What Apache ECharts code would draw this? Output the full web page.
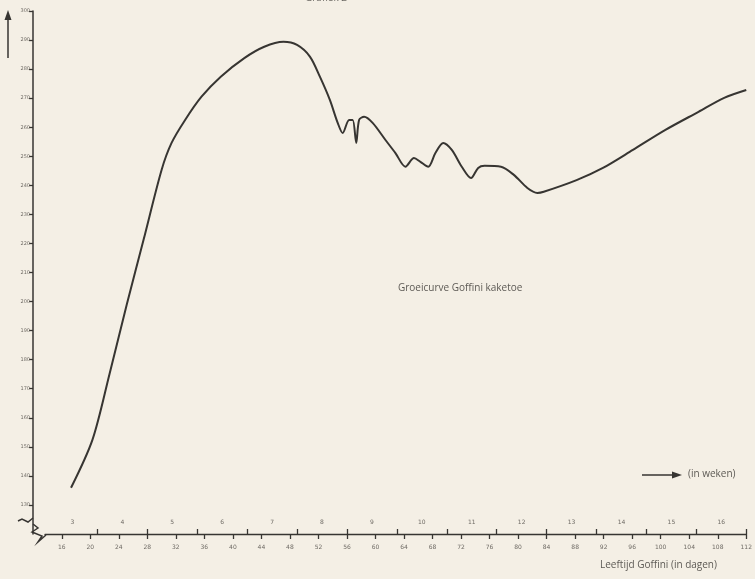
<!DOCTYPE html>
<html>
<head>
<meta charset="utf-8">
<script src="https://cdn.jsdelivr.net/npm/echarts@6/dist/echarts.min.js"></script>
<style>
  html, body { margin: 0; padding: 0; background: #f4efe5; }
  #chart { width: 755px; height: 579px; }
</style>
</head>
<body>
<div id="chart"></div>
<script>
  // leeftijd (dagen) en gewicht (gram)
  var ages = [17.3, 20.3, 22.7, 25.1, 27.5, 30.0, 31.4, 33.3, 35.6, 38.3, 41.6, 44.4, 47.1, 49.0, 50.8, 52.2, 53.6, 54.7, 55.4, 56.3, 56.8, 57.3, 57.7, 58.4, 59.6, 61.4, 62.8, 64.2, 65.4, 66.3, 67.4, 68.4, 69.5, 70.7, 72.1, 73.4, 74.4, 75.3, 77.6, 79.4, 81.3, 82.7, 83.6, 88.2, 91.9, 96.1, 100.6, 105.3, 108.9, 112]
  var weights = [135.9, 152.4, 175.1, 198.8, 221.5, 245.3, 254.6, 262.5, 270.5, 277.4, 283.8, 287.7, 289.4, 288.3, 284.3, 277.4, 269.4, 261.5, 258.0, 262.5, 262.5, 254.6, 262.5, 263.6, 261.5, 255.6, 251.1, 246.4, 249.4, 248.1, 246.4, 251.1, 254.6, 252.2, 246.4, 242.5, 246.0, 246.7, 246.4, 243.6, 239.1, 237.4, 237.8, 241.8, 246.0, 252.2, 259.0, 265.3, 270.1, 272.8]

  var yTicks = [130, 140, 150, 160, 170, 180, 190, 200, 210, 220, 230, 240, 250, 260, 270, 280, 290, 300]
  var dayTicks = [16, 20, 24, 28, 32, 36, 40, 44, 48, 52, 56, 60, 64, 68, 72, 76, 80, 84, 88, 92, 96, 100, 104, 108, 112]
  var weekTicks = [21, 28, 35, 42, 49, 56, 63, 70, 77, 84, 91, 98, 105, 112]
  var weekLabels = [3, 4, 5, 6, 7, 8, 9, 10, 11, 12, 13, 14, 15, 16]

  var weekLabelPos = weekLabels.map(function (w) { return w * 7 - 3.5 })
  var data = ages.map(function (a, i) { return [a, weights[i]] })

  var ink = '#373532'
  var grey = '#6f6b65'

  var chart = echarts.init(document.getElementById('chart'))
  chart.setOption({
    backgroundColor: '#f4efe5',
    animation: false,
    grid: { left: 45, right: 0, top: 11, bottom: 45 },
    xAxis: [
      {
        type: 'value',
        min: 13.65,
        max: 112,
        position: 'bottom',
        axisLine: { lineStyle: { color: ink, width: 1.3 } },
        axisTick: { customValues: dayTicks, length: 5, lineStyle: { color: ink, width: 1.3 } },
        axisLabel: { customValues: dayTicks, color: grey, fontSize: 6, margin: 10, fontFamily: 'DejaVu Sans' },
        splitLine: { show: false }
      },
      {
        type: 'value',
        min: 13.65,
        max: 112,
        position: 'bottom',
        axisLine: { show: false },
        axisTick: { customValues: weekTicks, inside: true, length: 5, lineStyle: { color: ink, width: 1.3 } },
        axisLabel: {
          customValues: weekLabelPos,
          inside: true,
          margin: 9,
          color: grey,
          fontSize: 6,
          fontFamily: 'DejaVu Sans',
          formatter: function (v) { return (v + 3.5) / 7 }
        },
        splitLine: { show: false }
      }
    ],
    yAxis: {
      type: 'value',
      min: 120,
      max: 300,
      offset: 12,
      axisLine: { show: true, lineStyle: { color: ink, width: 1.5 } },
      axisTick: { customValues: yTicks, length: 4, lineStyle: { color: ink, width: 1.3 } },
      axisLabel: { customValues: yTicks, color: grey, fontSize: 5, margin: 3, fontFamily: 'DejaVu Sans' },
      splitLine: { show: false }
    },
    series: [
      {
        type: 'line',
        data: data,
        smooth: 0.3,
        symbol: 'none',
        lineStyle: { color: ink, width: 2 }
      }
    ],
    graphic: [
      { type: 'text', left: 398, top: 283, style: { text: 'Groeicurve Goffini kaketoe', fill: '#5d5a55', font: '10px "Open Sans"' } },
      { type: 'text', left: 600, top: 560, style: { text: 'Leeftijd Goffini (in dagen)', fill: '#5d5a55', font: '10px "Open Sans"' } },
      { type: 'text', left: 688, top: 469, style: { text: '(in weken)', fill: '#5d5a55', font: '10px "Open Sans"' } },
      { type: 'text', left: 305, top: -7, style: { text: 'Grafiek 2', fill: '#6d6a65', font: '10px "Open Sans"' } },
      { type: 'line', shape: { x1: 642, y1: 475, x2: 676, y2: 475 }, style: { stroke: ink, lineWidth: 1.5 } },
      { type: 'polygon', shape: { points: [[682, 475], [672, 471.5], [672, 478.5]] }, style: { fill: ink } },
      { type: 'line', shape: { x1: 8, y1: 58, x2: 8, y2: 18 }, style: { stroke: ink, lineWidth: 1.5 } },
      { type: 'polygon', shape: { points: [[8, 10], [4.5, 20], [11.5, 20]] }, style: { fill: ink } },
      { type: 'polyline', shape: { points: [[33, 518], [28, 522], [22, 519], [18, 521]] }, style: { stroke: ink, lineWidth: 1.5, fill: null } },
      { type: 'polyline', shape: { points: [[33, 524], [38, 528], [32, 532], [42, 536], [38, 542], [46, 535]] }, style: { stroke: ink, lineWidth: 1.5, fill: null } }
    ]
  })
</script>
</body>
</html>
